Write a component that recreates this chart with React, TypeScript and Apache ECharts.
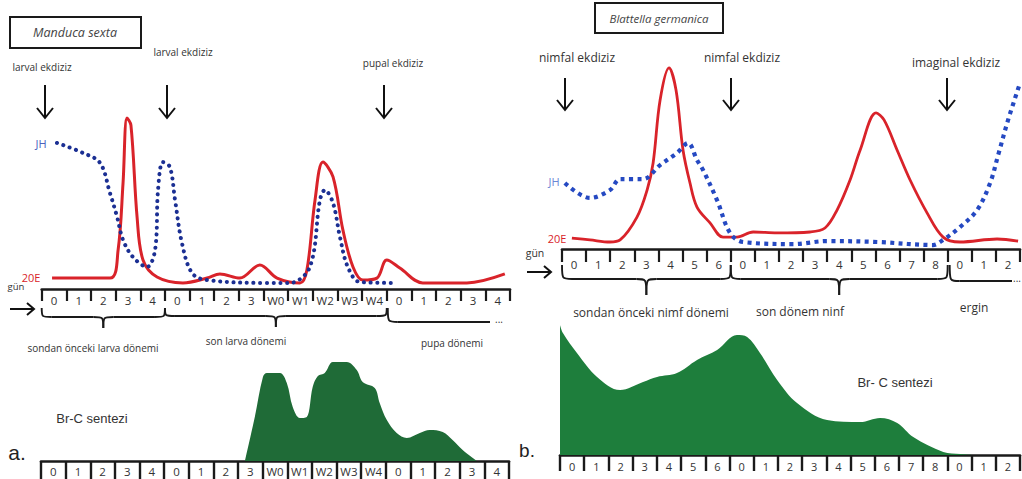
import React, { useEffect, useRef } from "react";
import * as echarts from "echarts";

// ---- day strips (tick labels) ----
const dayLabelsA = ["0", "1", "2", "3", "4", "0", "1", "2", "3", "W0", "W1", "W2", "W3", "W4", "0", "1", "2", "3", "4"];
const dayLabelsB = ["0", "1", "2", "3", "4", "5", "6", "0", "1", "2", "3", "4", "5", "6", "7", "8", "0", "1", "2"];

// ---- panel a: Manduca sexta (x = day cells from strip start, y = relative level 0-100) ----
const e20A: number[][] = [
  [0.42, 6.1], [2.77, 6.1], [3.1, 21.8], [3.3, 59.2], [3.46, 95.5], [3.62, 91.6], [3.87, 40.2], [4.11, 16.2],
  [4.68, 6.7], [5.73, 3.4], [6.71, 6.1], [7.23, 8.4], [8.04, 6.1], [8.85, 13.4], [9.55, 6.1], [10.48, 3.4],
  [10.76, 10.6], [11.09, 49.7], [11.41, 70.9], [11.82, 62.6], [12.22, 33.0], [12.63, 12.3], [13.03, 5.0],
  [13.6, 6.1], [14.0, 16.2], [14.53, 11.7], [15.46, 3.4], [17.25, 3.4], [18.79, 8.4],
];
const jhA: number[][] = [
  [0.62, 81.6], [1.68, 76.0], [2.37, 70.4], [2.77, 53.6], [3.06, 40.2], [3.3, 27.4], [3.7, 17.9], [4.27, 12.3],
  [4.6, 21.8], [4.72, 55.3], [4.92, 70.9], [5.2, 68.2], [5.41, 49.7], [5.69, 25.7], [6.1, 8.9], [6.71, 5.0],
  [9.14, 3.4], [10.07, 3.4], [10.88, 12.3], [11.29, 49.7], [11.49, 55.3], [11.82, 48.0], [12.1, 29.1],
  [12.42, 12.3], [12.91, 3.9], [14.21, 3.4],
];
const brcA: number[][] = [
  [8.28, 0], [8.68, 39.6], [9.01, 75.7], [9.17, 79.3], [9.7, 79.3], [9.98, 70.3], [10.22, 48.6], [10.51, 38.7],
  [10.79, 39.6], [11.03, 66.7], [11.24, 76.6], [11.52, 79.3], [11.85, 89.2], [12.41, 89.2], [12.82, 82.0],
  [13.06, 71.2], [13.55, 65.8], [13.75, 52.3], [14.04, 36.9], [14.44, 25.2], [14.85, 20.7], [15.38, 25.2],
  [15.78, 27.9], [16.31, 26.1], [16.71, 18.9], [17.12, 9.9], [17.69, 0],
];

// ---- panel b: Blattella germanica ----
const e20B: number[][] = [
  [0.41, 5.8], [1.16, 4.8], [1.99, 3.7], [2.41, 4.8], [3.11, 16.9], [3.53, 31.2], [3.78, 45.5], [4.07, 78.8],
  [4.44, 95.8], [4.73, 84.1], [5.02, 52.4], [5.31, 34.9], [5.6, 22.2], [6.14, 13.8], [6.68, 6.3], [7.26, 6.3],
  [7.93, 9.0], [8.92, 8.5], [10.29, 9.0], [10.91, 11.1], [11.41, 20.6], [11.95, 36.5], [12.37, 52.4],
  [13.03, 72.0], [13.36, 68.3], [13.9, 52.4], [14.44, 36.5], [15.15, 19.0], [15.81, 6.3], [16.51, 3.7],
  [18.05, 5.3], [18.92, 4.2],
];
const jhB: number[][] = [
  [0.12, 34.9], [1.16, 27.0], [1.99, 31.2], [2.41, 37.0], [3.36, 37.0], [4.07, 44.4], [4.77, 50.8], [5.23, 56.1],
  [5.6, 47.1], [5.85, 41.8], [6.43, 25.9], [6.97, 8.5], [7.51, 3.7], [9.59, 2.6], [11.0, 4.2], [13.07, 3.7],
  [15.39, 2.1], [15.81, 4.8], [16.51, 11.6], [17.22, 20.6], [17.76, 34.9], [18.1, 50.0], [18.5, 68.0], [19.0, 87.8],
];
const brcB: number[][] = [
  [0, 96.3], [0.12, 90.4], [0.7, 75.6], [1.53, 57.8], [2.48, 48.1], [3.43, 54.1], [4.01, 57.8], [4.83, 60.7],
  [5.66, 70.4], [6.49, 77.8], [7.31, 88.9], [7.73, 87.4], [8.26, 75.6], [8.97, 55.6], [9.79, 38.5],
  [11.03, 25.9], [12.4, 24.4], [13.22, 27.4], [13.93, 23.7], [14.59, 13.3], [15.83, 2.2], [16.53, 0.7], [17.0, 0],
];

// ---- layout ----
const G = [
  { left: 41.7, top: 110, width: 468.3, height: 179 }, // a top
  { left: 41, top: 350, width: 468, height: 111 }, // a bottom
  { left: 562, top: 60, width: 458, height: 189 }, // b top
  { left: 560, top: 320, width: 460, height: 135 }, // b bottom
];
const NCELL = 19;
const cx = (g: number, i: number) => G[g].left + (i * G[g].width) / NCELL;

const FONT = "Open Sans";
const INK = "#1a1a1a";
const RED = "#d9232a";
const BLUE_A = "#1b2f93";
const BLUE_B = "#2549c2";
const GREEN_A = "#1f6b37";
const GREEN_B = "#1e7e3c";

function txt(text: string, x: number, y: number, size: number, color = "#333", extra: any = {}) {
  return {
    type: "text",
    x,
    y,
    silent: true,
    style: {
      text,
      fontSize: size,
      fontFamily: FONT,
      fill: color,
      textAlign: "center",
      textVerticalAlign: "middle",
      ...extra,
    },
  };
}

function downArrow(x: number, y1: number, y2: number) {
  const st = { stroke: "#111", lineWidth: 2 };
  return [
    { type: "line", shape: { x1: x, y1, x2: x, y2 }, style: st },
    { type: "polyline", shape: { points: [[x - 8, y2 - 10], [x, y2], [x + 8, y2 - 10]] }, style: { ...st, fill: null } },
  ];
}

function rightArrow(x1: number, x2: number, y: number) {
  const st = { stroke: "#111", lineWidth: 2 };
  return [
    { type: "line", shape: { x1, y1: y, x2, y2: y }, style: st },
    { type: "polyline", shape: { points: [[x2 - 7, y - 6], [x2, y], [x2 - 7, y + 6]] }, style: { ...st, fill: null } },
  ];
}

function brace(xa: number, xb: number, y0: number, ym: number, yt: number, half = false) {
  const r = 10;
  const xm = (xa + xb) / 2;
  const st = { stroke: INK, lineWidth: 1.9 };
  const els: any[] = [];
  els.push({ type: "bezierCurve", shape: { x1: xa, y1: y0, cpx1: xa, cpy1: ym, cpx2: xa, cpy2: ym, x2: xa + r, y2: ym }, style: st });
  if (half) {
    els.push({ type: "line", shape: { x1: xa + r, y1: ym, x2: xb, y2: ym }, style: st });
    return els;
  }
  els.push({ type: "line", shape: { x1: xa + r, y1: ym, x2: xm - r, y2: ym }, style: st });
  els.push({ type: "bezierCurve", shape: { x1: xm - r, y1: ym, cpx1: xm, cpy1: ym, cpx2: xm, cpy2: ym, x2: xm, y2: yt }, style: st });
  els.push({ type: "bezierCurve", shape: { x1: xm, y1: yt, cpx1: xm, cpy1: ym, cpx2: xm, cpy2: ym, x2: xm + r, y2: ym }, style: st });
  els.push({ type: "line", shape: { x1: xm + r, y1: ym, x2: xb - r, y2: ym }, style: st });
  els.push({ type: "bezierCurve", shape: { x1: xb - r, y1: ym, cpx1: xb, cpy1: ym, cpx2: xb, cpy2: ym, x2: xb, y2: y0 }, style: st });
  return els;
}

function dayAxis(grid: number, labels: string[], tickLen: number, tickW: number, margin: number, fontSize: number) {
  return {
    type: "category",
    gridIndex: grid,
    position: "bottom",
    data: labels,
    boundaryGap: true,
    axisLine: { show: true, onZero: false, lineStyle: { color: INK, width: 2.6 } },
    axisTick: { show: true, interval: 0, length: tickLen, lineStyle: { color: INK, width: tickW } },
    axisLabel: { show: true, interval: 0, margin, fontSize, color: "#333", fontFamily: FONT },
    splitLine: { show: false },
  };
}

function hiddenX(grid: number) {
  return { type: "value", gridIndex: grid, min: 0, max: NCELL, show: false };
}

function lineSeries(name: string, xi: number, yi: number, data: number[][], color: string, width: number) {
  return {
    name,
    type: "line",
    xAxisIndex: xi,
    yAxisIndex: yi,
    data,
    smooth: 0.35,
    showSymbol: false,
    silent: true,
    lineStyle: { color, width },
  };
}

function dottedSeries(name: string, xi: number, yi: number, data: number[][], color: string, width: number, dash: number[], cap: string) {
  return {
    name,
    type: "line",
    xAxisIndex: xi,
    yAxisIndex: yi,
    data,
    smooth: 0.35,
    showSymbol: false,
    silent: true,
    lineStyle: { color, width, type: dash, cap },
  };
}

function areaSeries(name: string, xi: number, yi: number, data: number[][], color: string) {
  return {
    name,
    type: "line",
    xAxisIndex: xi,
    yAxisIndex: yi,
    data,
    smooth: 0.35,
    showSymbol: false,
    silent: true,
    lineStyle: { width: 0, color },
    areaStyle: { color, opacity: 1 },
  };
}

function buildOption() {
  const graphics: any[] = [];

  // ---- panel a ----
  graphics.push({ type: "rect", shape: { x: 10, y: 17, width: 131, height: 31 }, style: { fill: "#fff", stroke: INK, lineWidth: 2 } });
  graphics.push(txt("Manduca sexta", 75, 32.5, 12.5, "#444", { fontStyle: "italic" }));
  graphics.push(txt("larval ekdiziz", 42, 67, 10));
  graphics.push(txt("larval ekdiziz", 183, 52, 10));
  graphics.push(txt("pupal ekdiziz", 393, 63, 10));
  graphics.push(...downArrow(45, 85, 118));
  graphics.push(...downArrow(167, 85, 118));
  graphics.push(...downArrow(384, 85, 118));
  graphics.push(txt("JH", 41, 143, 11, "#4a62bd"));
  graphics.push(txt("20E", 31, 277, 11, RED));
  graphics.push(txt("gün", 16, 286, 9.5));
  graphics.push(...rightArrow(10, 34, 309));
  graphics.push(...brace(cx(0, 0), cx(0, 5), 308, 317, 328));
  graphics.push(...brace(cx(0, 5), cx(0, 14), 308, 316, 327));
  graphics.push(...brace(cx(0, 14) + 1, 490, 308, 322, 0, true));
  graphics.push(txt("...", 499, 319, 10));
  graphics.push(txt("sondan önceki larva dönemi", 93, 348, 10));
  graphics.push(txt("son larva dönemi", 246, 341, 10));
  graphics.push(txt("pupa dönemi", 452, 343, 10));
  graphics.push(txt("Br-C sentezi", 92, 418, 13, "#333", { fontFamily: "Liberation Sans" }));
  graphics.push(txt("a.", 17, 452, 21, "#222", { fontFamily: "Liberation Sans" }));

  // ---- panel b ----
  graphics.push({ type: "rect", shape: { x: 595, y: 3, width: 128, height: 30 }, style: { fill: "#fff", stroke: INK, lineWidth: 2 } });
  graphics.push(txt("Blattella germanica", 659, 18, 11.5, "#444", { fontStyle: "italic" }));
  graphics.push(txt("nimfal ekdiziz", 577, 57, 12));
  graphics.push(txt("nimfal ekdiziz", 742, 57, 12));
  graphics.push(txt("imaginal ekdiziz", 956, 62, 12));
  graphics.push(...downArrow(565, 78, 110));
  graphics.push(...downArrow(731, 78, 110));
  graphics.push(...downArrow(947, 78, 110));
  graphics.push(txt("JH", 554, 181, 11, "#6a86d6"));
  graphics.push(txt("20E", 557, 238, 11, RED));
  graphics.push(txt("gün", 535, 253, 10.5));
  graphics.push(...rightArrow(527, 551, 272));
  graphics.push(...brace(cx(2, 0), cx(2, 7), 265, 279, 295));
  graphics.push(...brace(cx(2, 7), cx(2, 16), 265, 279, 295));
  graphics.push(...brace(cx(2, 16) + 2, 1012, 265, 281, 0, true));
  graphics.push(txt("...", 1017, 278, 10));
  graphics.push(txt("sondan önceki nimf dönemi", 651, 312, 12));
  graphics.push(txt("son dönem ninf", 800, 311, 12));
  graphics.push(txt("ergin", 974, 307, 12));
  graphics.push(txt("Br- C sentezi", 895, 382, 13, "#333", { fontFamily: "Liberation Sans" }));
  graphics.push(txt("b.", 527, 450, 19, "#222", { fontFamily: "Liberation Sans" }));

  return {
    animation: false,
    backgroundColor: "#fff",
    textStyle: { fontFamily: FONT },
    grid: G.map((g) => ({ ...g, containLabel: false, outerBoundsMode: "none" })),
    xAxis: [
      hiddenX(0),
      dayAxis(0, dayLabelsA, 12, 2.2, 5, 11.5),
      hiddenX(1),
      dayAxis(1, dayLabelsA, 18, 2.4, 4, 11.5),
      hiddenX(2),
      dayAxis(2, dayLabelsB, 13, 2.2, 9, 11.5),
      hiddenX(3),
      dayAxis(3, dayLabelsB, 16, 2.4, 6, 11),
    ],
    yAxis: [0, 1, 2, 3].map((i) => ({ type: "value", gridIndex: i, min: 0, max: 100, show: false })),
    series: [
      lineSeries("20E a", 0, 0, e20A, RED, 3),
      dottedSeries("JH a", 0, 0, jhA, BLUE_A, 4, [0.1, 6.6], "round"),
      areaSeries("Br-C a", 2, 1, brcA, GREEN_A),
      lineSeries("20E b", 4, 2, e20B, RED, 2.8),
      dottedSeries("JH b", 4, 2, jhB, BLUE_B, 4.2, [4, 4.4], "butt"),
      areaSeries("Br-C b", 6, 3, brcB, GREEN_B),
    ],
    graphic: { elements: graphics },
  };
}

export default function App() {
  const ref = useRef<HTMLDivElement>(null);
  useEffect(() => {
    document.body.style.margin = "0";
    const chart = echarts.init(ref.current!, null, { renderer: "svg" });
    chart.setOption(buildOption() as any);
    return () => chart.dispose();
  }, []);
  return <div ref={ref} style={{ width: 1022, height: 479 }} />;
}
